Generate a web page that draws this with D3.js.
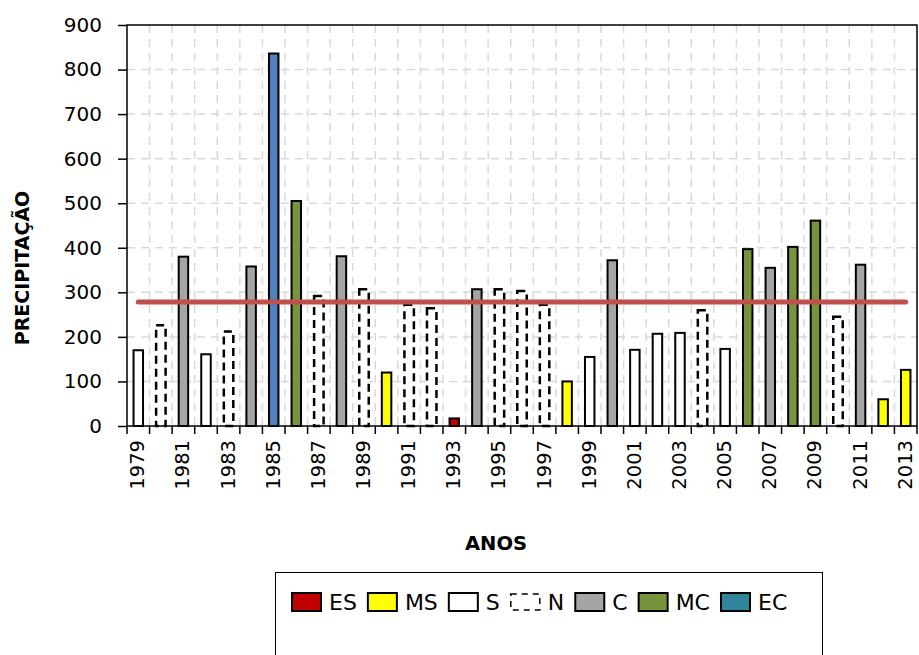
<!DOCTYPE html>
<html>
<head>
<meta charset="utf-8">
<script src="https://cdn.jsdelivr.net/npm/d3@7"></script>
<style>
  html, body { margin: 0; padding: 0; background: #fff; }
  svg { display: block; }
  text { font-family: "DejaVu Sans", sans-serif; fill: #000; }
</style>
</head>
<body>
<svg id="chart" width="919" height="655"></svg>
<script>
// ---- data ----
const years = ["1979","1980","1981","1982","1983","1984","1985","1986","1987","1988",
  "1989","1990","1991","1992","1993","1994","1995","1996","1997","1998",
  "1999","2000","2001","2002","2003","2004","2005","2006","2007","2008",
  "2009","2010","2011","2012","2013"];
const precipitation = [170, 226, 380, 161, 212, 358, 836, 505, 292, 381,
  307, 120, 272, 264, 17, 307, 307, 303, 272, 100,
  155, 372, 171, 207, 209, 260, 173, 397, 355, 402,
  461, 245, 362, 60, 126];
const classes = ["S","N","C","S","N","C","EC","MC","N","C",
  "N","MS","N","N","ES","C","N","N","N","MS",
  "S","C","S","S","S","N","S","MC","C","MC",
  "MC","N","C","MS","MS"];
const yTicks = [0, 100, 200, 300, 400, 500, 600, 700, 800, 900];
const legendKeys = ["ES","MS","S","N","C","MC","EC"];
const barColors = {ES:"#C00000", MS:"#FFFF00", S:"#FFFFFF", N:"#FFFFFF", C:"#A5A5A5", MC:"#77933C", EC:"#4F81BD"};
const legendColors = {ES:"#C00000", MS:"#FFFF00", S:"#FFFFFF", N:"#FFFFFF", C:"#A5A5A5", MC:"#77933C", EC:"#31859C"};

(function () {
// ---- layout ----
const svg = d3.select("#chart");
const pLeft = 127, pRight = 917, pTop = 25, pBottom = 426;

const x = d3.scaleBand().domain(years).range([pLeft, pRight]).paddingInner(0.58).paddingOuter(0.29);
const xStep = d3.scaleBand().domain(years).range([pLeft, pRight]).padding(0);
const y = d3.scaleLinear().domain([0, 900]).range([pBottom, pTop]);

// grid
const grid = svg.append("g").attr("stroke", "#d9d9d9").attr("stroke-width", 1.5).attr("stroke-dasharray", "8,6");
grid.selectAll("line.h").data(yTicks.filter(t => t > 0 && t < 900)).join("line").attr("class", "h")
  .attr("x1", pLeft).attr("x2", pRight).attr("y1", d => y(d)).attr("y2", d => y(d));
grid.selectAll("line.v").data(years.slice(1)).join("line").attr("class", "v")
  .attr("x1", d => xStep(d)).attr("x2", d => xStep(d)).attr("y1", pTop).attr("y2", pBottom);

// bars
svg.append("g").selectAll("rect").data(years).join("rect")
  .attr("x", d => x(d))
  .attr("width", x.bandwidth())
  .attr("y", (d, i) => y(precipitation[i]))
  .attr("height", (d, i) => y(0) - y(precipitation[i]))
  .attr("fill", (d, i) => barColors[classes[i]])
  .attr("stroke", "#000")
  .attr("stroke-width", (d, i) => classes[i] === "N" ? 2.5 : 2)
  .attr("stroke-dasharray", (d, i) => classes[i] === "N" ? "8,5" : null);

// mean line
const meanValue = d3.mean(precipitation);
svg.append("line")
  .attr("x1", x(years[0]) + x.bandwidth() / 2)
  .attr("x2", x(years[years.length - 1]) + x.bandwidth() / 2)
  .attr("y1", y(meanValue)).attr("y2", y(meanValue))
  .attr("stroke", "#C0504D").attr("stroke-width", 5).attr("stroke-linecap", "round");

// axes
const yAxis = svg.append("g").attr("transform", `translate(${pLeft},0)`)
  .call(d3.axisLeft(y).tickValues(yTicks).tickSize(9).tickPadding(16).tickFormat(d3.format("d")));
yAxis.select(".domain").remove();
yAxis.selectAll("line").attr("stroke", "#000").attr("stroke-width", 1.5);
yAxis.selectAll("text").attr("font-size", "20px").attr("font-family", "DejaVu Sans, sans-serif").attr("fill", "#000");

const xAxis = svg.append("g").attr("transform", `translate(0,${pBottom})`);
xAxis.selectAll("line").data(years.concat(["end"])).join("line")
  .attr("x1", (d, i) => pLeft + i * xStep.step()).attr("x2", (d, i) => pLeft + i * xStep.step())
  .attr("y1", 0).attr("y2", 8).attr("stroke", "#000").attr("stroke-width", 1.5);
xAxis.selectAll("text").data(years.filter((d, i) => i % 2 === 0)).join("text")
  .attr("transform", d => `translate(${xStep(d) + xStep.bandwidth() / 2 + 6},14) rotate(-90)`)
  .attr("text-anchor", "end")
  .attr("font-size", "19.5px")
  .text(d => d);

// frame
svg.append("rect").attr("x", pLeft).attr("y", pTop).attr("width", pRight - pLeft).attr("height", pBottom - pTop)
  .attr("fill", "none").attr("stroke", "#000").attr("stroke-width", 1.5);

// axis titles
svg.append("text").attr("x", 496).attr("y", 550).attr("text-anchor", "middle")
  .attr("font-weight", "bold").attr("font-size", "19.5px").text("ANOS");
svg.append("text").attr("transform", "translate(29,268) rotate(-90)").attr("text-anchor", "middle")
  .attr("font-weight", "bold").attr("font-size", "19px").text("PRECIPITAÇÃO");

// legend
svg.append("rect").attr("x", 275.5).attr("y", 572.5).attr("width", 547).attr("height", 120)
  .attr("fill", "#fff").attr("stroke", "#000").attr("stroke-width", 1);
const lg = svg.append("g");
let lx = 292;
legendKeys.forEach(k => {
  const sw = lg.append("rect").attr("x", lx).attr("y", 593).attr("width", 29).attr("height", 18)
    .attr("fill", legendColors[k]).attr("stroke", "#000").attr("stroke-width", 2);
  if (k === "N") sw.attr("stroke-dasharray", "6,5").attr("stroke-width", 1.5).attr("y", 594).attr("height", 16);
  const t = lg.append("text").attr("x", lx + 37).attr("y", 610).attr("font-size", "22px").text(k);
  lx = lx + 37 + t.node().getComputedTextLength() + 11;
});
})();
</script>
</body>
</html>
